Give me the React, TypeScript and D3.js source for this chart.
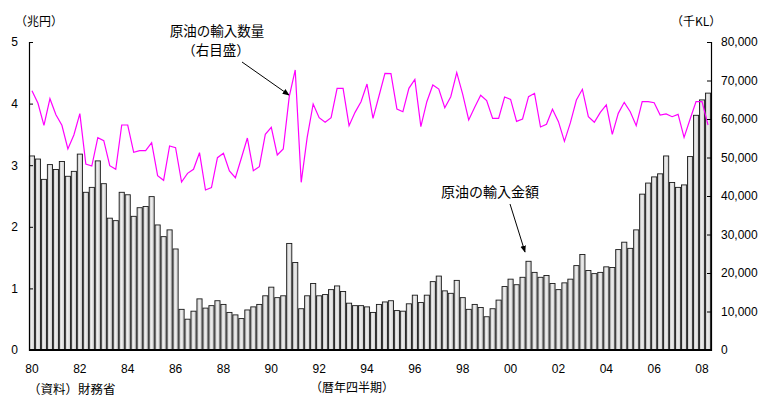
import React, { useEffect, useRef } from "react";
import * as d3 from "d3";

// Quarterly categories: 1980Q1 .. 2008Q2
const startYear = 1980;
const quarterCount = 114;
const quarters: string[] = d3.range(quarterCount).map(
  (i) => `${startYear + Math.floor(i / 4)}Q${(i % 4) + 1}`
);

// 原油の輸入金額 (兆円, left axis)
const importValue: number[] = [
  3.15, 3.10, 2.77, 3.01, 2.93, 3.06, 2.82, 2.90, 3.18, 2.56, 2.64, 3.07, 2.70, 2.14, 2.10, 2.56,
  2.52, 2.17, 2.31, 2.33, 2.49, 2.03, 1.84, 1.95, 1.64, 0.66, 0.50, 0.63, 0.83, 0.68, 0.72, 0.80,
  0.74, 0.61, 0.57, 0.51, 0.65, 0.70, 0.74, 0.88, 1.02, 0.85, 0.88, 1.73, 1.42, 0.67, 0.88, 1.08,
  0.88, 0.90, 0.98, 1.04, 0.95, 0.76, 0.72, 0.72, 0.70, 0.61, 0.74, 0.78, 0.80, 0.64, 0.63, 0.75,
  0.89, 0.77, 0.89, 1.11, 1.20, 0.96, 0.92, 1.13, 0.85, 0.66, 0.74, 0.69, 0.54, 0.67, 0.81, 1.03,
  1.15, 1.06, 1.18, 1.44, 1.26, 1.18, 1.21, 1.08, 0.98, 1.09, 1.15, 1.37, 1.55, 1.29, 1.24, 1.26,
  1.35, 1.34, 1.63, 1.75, 1.65, 1.95, 2.53, 2.71, 2.81, 2.86, 3.15, 2.72, 2.64, 2.68, 3.14, 3.81,
  4.06, 4.17,
];

// 原油の輸入数量 (千KL, right axis)
const importVolume: number[] = [
  67350, 64070, 58360, 65270, 61120, 58360, 52210, 55840, 61380, 48310, 47790, 55140, 54360,
  47880, 46930, 58440, 58440, 51350, 51770, 51770, 53850, 45270, 44070, 52990, 52550, 43640,
  45890, 46930, 51250, 41560, 42160, 49950, 51090, 46490, 44750, 49870, 55060, 46580, 47610,
  56020, 57840, 50650, 52210, 65800, 72730, 43550, 55240, 63900, 60340, 59140, 60340, 67970,
  67970, 58270, 61730, 64500, 69090, 60170, 65970, 71860, 71780, 62600, 61900, 67970, 70300,
  58010, 64500, 68830, 67790, 62940, 65800, 72030, 66410, 59740, 63030, 66150, 64760, 60170,
  60170, 65710, 65100, 59390, 60000, 65800, 66670, 57920, 58620, 62510, 59310, 54200, 59050,
  64940, 67710, 60600, 59140, 61730, 63640, 56020, 61470, 64330, 61900, 58270, 64500, 64500,
  64240, 61040, 61300, 60600, 61210, 55240, 59920, 64500, 64500, 58440,
];

const leftTicks: number[] = [0, 1, 2, 3, 4, 5];
const rightTicks: number[] = [0, 10000, 20000, 30000, 40000, 50000, 60000, 70000, 80000];
const yearLabels: string[] = ["80", "82", "84", "86", "88", "90", "92", "94", "96", "98", "00", "02", "04", "06", "08"];

const W = 763;
const H = 399;
const plot = { left: 29, right: 711, top: 42, bottom: 350 };
const numFont = "'Liberation Sans', Arial, sans-serif";
const jpFont = "'Noto Sans CJK JP', sans-serif";

export default function App() {
  const ref = useRef<SVGSVGElement>(null);

  useEffect(() => {
    const svg = d3.select(ref.current);
    svg.selectAll("*").remove();

    const x = d3
      .scaleBand<string>()
      .domain(quarters)
      .range([plot.left, plot.right])
      .paddingInner(0.14)
      .paddingOuter(0.07);
    const yL = d3.scaleLinear().domain([0, 5]).range([plot.bottom, plot.top]);
    const yR = d3.scaleLinear().domain([0, 80000]).range([plot.bottom, plot.top]);

    const defs = svg.append("defs");
    const grad = defs
      .append("linearGradient")
      .attr("id", "barFill")
      .attr("x1", "0")
      .attr("x2", "1")
      .attr("y1", "0")
      .attr("y2", "0");
    grad.append("stop").attr("offset", "0%").attr("stop-color", "#bdbdbd");
    grad.append("stop").attr("offset", "45%").attr("stop-color", "#efefef");
    grad.append("stop").attr("offset", "100%").attr("stop-color", "#c8c8c8");

    const marker = defs
      .append("marker")
      .attr("id", "arrow")
      .attr("viewBox", "0 0 10 10")
      .attr("refX", 9)
      .attr("refY", 5)
      .attr("markerWidth", 7)
      .attr("markerHeight", 7)
      .attr("orient", "auto");
    marker.append("path").attr("d", "M0,1 L10,5 L0,9 Z").attr("fill", "#000");

    // bars
    svg
      .append("g")
      .selectAll("rect")
      .data(importValue)
      .join("rect")
      .attr("x", (_, i) => x(quarters[i])!)
      .attr("y", (d) => yL(d))
      .attr("width", x.bandwidth())
      .attr("height", (d) => plot.bottom - yL(d))
      .attr("fill", "url(#barFill)")
      .attr("stroke", "#1a1a1a")
      .attr("stroke-width", 0.9);

    // volume line
    const line = d3
      .line<number>()
      .x((_, i) => x(quarters[i])! + x.bandwidth() / 2)
      .y((d) => yR(d));
    svg
      .append("path")
      .datum(importVolume)
      .attr("d", line)
      .attr("fill", "none")
      .attr("stroke", "#ff00ff")
      .attr("stroke-width", 1.2);

    // axes (ticks point into the plot)
    const gL = svg.append("g").attr("transform", `translate(${plot.left},0)`);
    gL.call(
      d3.axisLeft(yL).tickValues(leftTicks).tickSizeInner(-4).tickSizeOuter(-4).tickFormat(d3.format("d"))
    );
    gL.select(".domain").attr("stroke", "#000").attr("stroke-width", 1.2);
    gL.selectAll(".tick text")
      .attr("x", -11)
      .attr("text-anchor", "end")
      .attr("font-size", 12)
      .attr("font-family", numFont)
      .attr("fill", "#000");

    const gR = svg.append("g").attr("transform", `translate(${plot.right},0)`);
    gR.call(
      d3.axisRight(yR).tickValues(rightTicks).tickSizeInner(-4).tickSizeOuter(-4).tickFormat(d3.format(","))
    );
    gR.select(".domain").attr("stroke", "#000").attr("stroke-width", 1.2);
    gR.selectAll(".tick text")
      .attr("x", 10)
      .attr("text-anchor", "start")
      .attr("font-size", 12)
      .attr("font-family", numFont)
      .attr("fill", "#000");

    // baseline
    svg
      .append("line")
      .attr("x1", plot.left)
      .attr("x2", plot.right)
      .attr("y1", plot.bottom)
      .attr("y2", plot.bottom)
      .attr("stroke", "#000")
      .attr("stroke-width", 2);

    // year labels at Q1 of even years
    svg
      .append("g")
      .selectAll("text")
      .data(yearLabels)
      .join("text")
      .attr("x", (_, i) => x(quarters[i * 8])! + x.bandwidth() / 2)
      .attr("y", 373)
      .attr("text-anchor", "middle")
      .attr("font-size", 12)
      .attr("font-family", numFont)
      .text((d) => d);

    const txt = (s: string, tx: number, ty: number, anchor = "start", size = 12) =>
      svg
        .append("text")
        .attr("x", tx)
        .attr("y", ty)
        .attr("text-anchor", anchor)
        .attr("font-size", size)
        .attr("font-family", jpFont)
        .attr("fill", "#000")
        .text(s);

    txt("（兆円）", 15, 26);
    txt("（千KL）", 671, 26);
    txt("（暦年四半期）", 352, 392, "middle");
    txt("（資料）財務省", 28, 394, "start", 12.5);
    txt("原油の輸入数量", 217, 36, "middle", 13.5);
    txt("（右目盛）", 216, 55, "middle", 13.5);
    txt("原油の輸入金額", 490, 197, "middle", 14);

    // annotation arrows
    svg
      .append("line")
      .attr("x1", 242)
      .attr("y1", 62)
      .attr("x2", 289)
      .attr("y2", 95)
      .attr("stroke", "#000")
      .attr("stroke-width", 1)
      .attr("marker-end", "url(#arrow)");
    svg
      .append("line")
      .attr("x1", 510)
      .attr("y1", 204)
      .attr("x2", 525)
      .attr("y2", 252)
      .attr("stroke", "#000")
      .attr("stroke-width", 1)
      .attr("marker-end", "url(#arrow)");
  }, []);

  return (
    <svg
      ref={ref}
      width={W}
      height={H}
      viewBox={`0 0 ${W} ${H}`}
      style={{ position: "absolute", left: 0, top: 0, background: "#fff" }}
    />
  );
}
